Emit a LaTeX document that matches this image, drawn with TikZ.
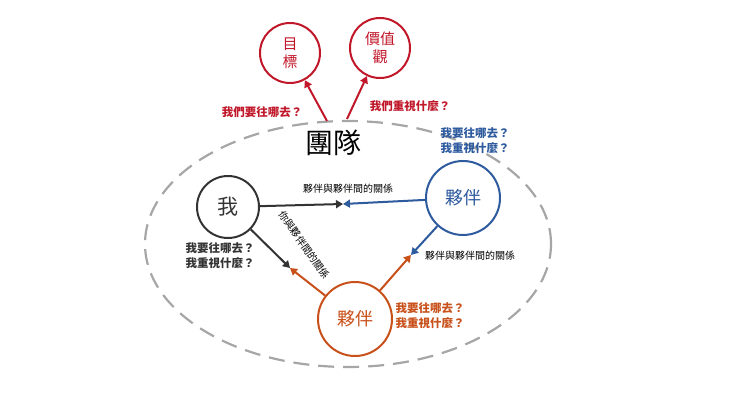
\documentclass[tikz,border=0pt]{standalone}
\usepackage{fontspec}
\setmainfont{Noto Sans CJK TC}
\usetikzlibrary{arrows.meta}
\definecolor{cred}{HTML}{C0182A}
\definecolor{cblue}{HTML}{2E5A9E}
\definecolor{corg}{HTML}{C8501A}
\definecolor{cblk}{HTML}{333333}
\tikzset{x=1pt,y=-1pt,
 circ/.style={circle,draw,line width=2pt,inner sep=0pt},
 arr/.style={line width=2pt,-{Triangle[length=7pt,width=8pt]}},
 lab/.style={font=\bfseries\fontsize{11.5}{13}\selectfont,inner sep=1pt},
 sm/.style={font=\fontsize{10}{11}\selectfont,inner sep=1pt}}
\begin{document}
\begin{tikzpicture}
\useasboundingbox (0,0) rectangle (740,401);
\draw[gray!70,line width=2.2pt,dash pattern=on 16pt off 9pt] (348,244) ellipse [x radius=203pt,y radius=123pt];
\node[font=\fontsize{28}{30}\selectfont] (team) at (333,143) {團隊};
\node[circ,cred,minimum size=60pt,font=\fontsize{15}{18}\selectfont,align=center,text=cred] (goal) at (290,53) {目\\標};
\node[circ,cred,minimum size=60pt,font=\fontsize{15}{18}\selectfont,align=center,text=cred] (val) at (380,48) {價值\\觀};
\coordinate (t1) at (327,121); \coordinate (t2) at (347,119);
\draw[arr,cred] (t1) -- (goal);
\draw[arr,cred] (t2) -- (val);
\node[lab,text=cred] (l1) at (262,112) {我們要往哪去？};
\node[lab,text=cred] (l2) at (410,106) {我們重視什麼？};
\node[circ,cblk,minimum size=62pt,font=\fontsize{21}{23}\selectfont] (me) at (228,207) {我};
\node[circ,cblue,minimum size=74pt,font=\fontsize{18}{20}\selectfont,text=cblue] (pb) at (463,198) {夥伴};
\node[circ,corg,minimum size=74pt,font=\fontsize{18}{20}\selectfont,text=corg] (po) at (355,319) {夥伴};
\node[lab,text=cblue,align=left] (lb) at (475,141) {我要往哪去？\\[2pt]我重視什麼？};
\node[lab,text=cblk,align=left] (lm) at (220,256) {我要往哪去？\\[2pt]我重視什麼？};
\node[lab,text=corg,align=left] (lo) at (430,316) {我要往哪去？\\[2pt]我重視什麼？};
\coordinate (m1) at (343,204); \coordinate (m2) at (290,268); \coordinate (m3) at (411,255);
\draw[arr,cblk] (me) -- (m1);
\draw[arr,cblue] (pb) -- (m1);
\draw[arr,cblk] (me) -- (m2);
\draw[arr,corg] (po) -- (m2);
\draw[arr,cblue] (pb) -- (m3);
\draw[arr,corg] (po) -- (m3);
\node[sm] (r1) at (348,189) {夥伴與夥伴間的關係};
\node[sm] (r3) at (470,256) {夥伴與夥伴間的關係};
\node[sm,rotate=-55] (r2) at (304,245) {你與夥伴間的關係};
\end{tikzpicture}
\end{document}
